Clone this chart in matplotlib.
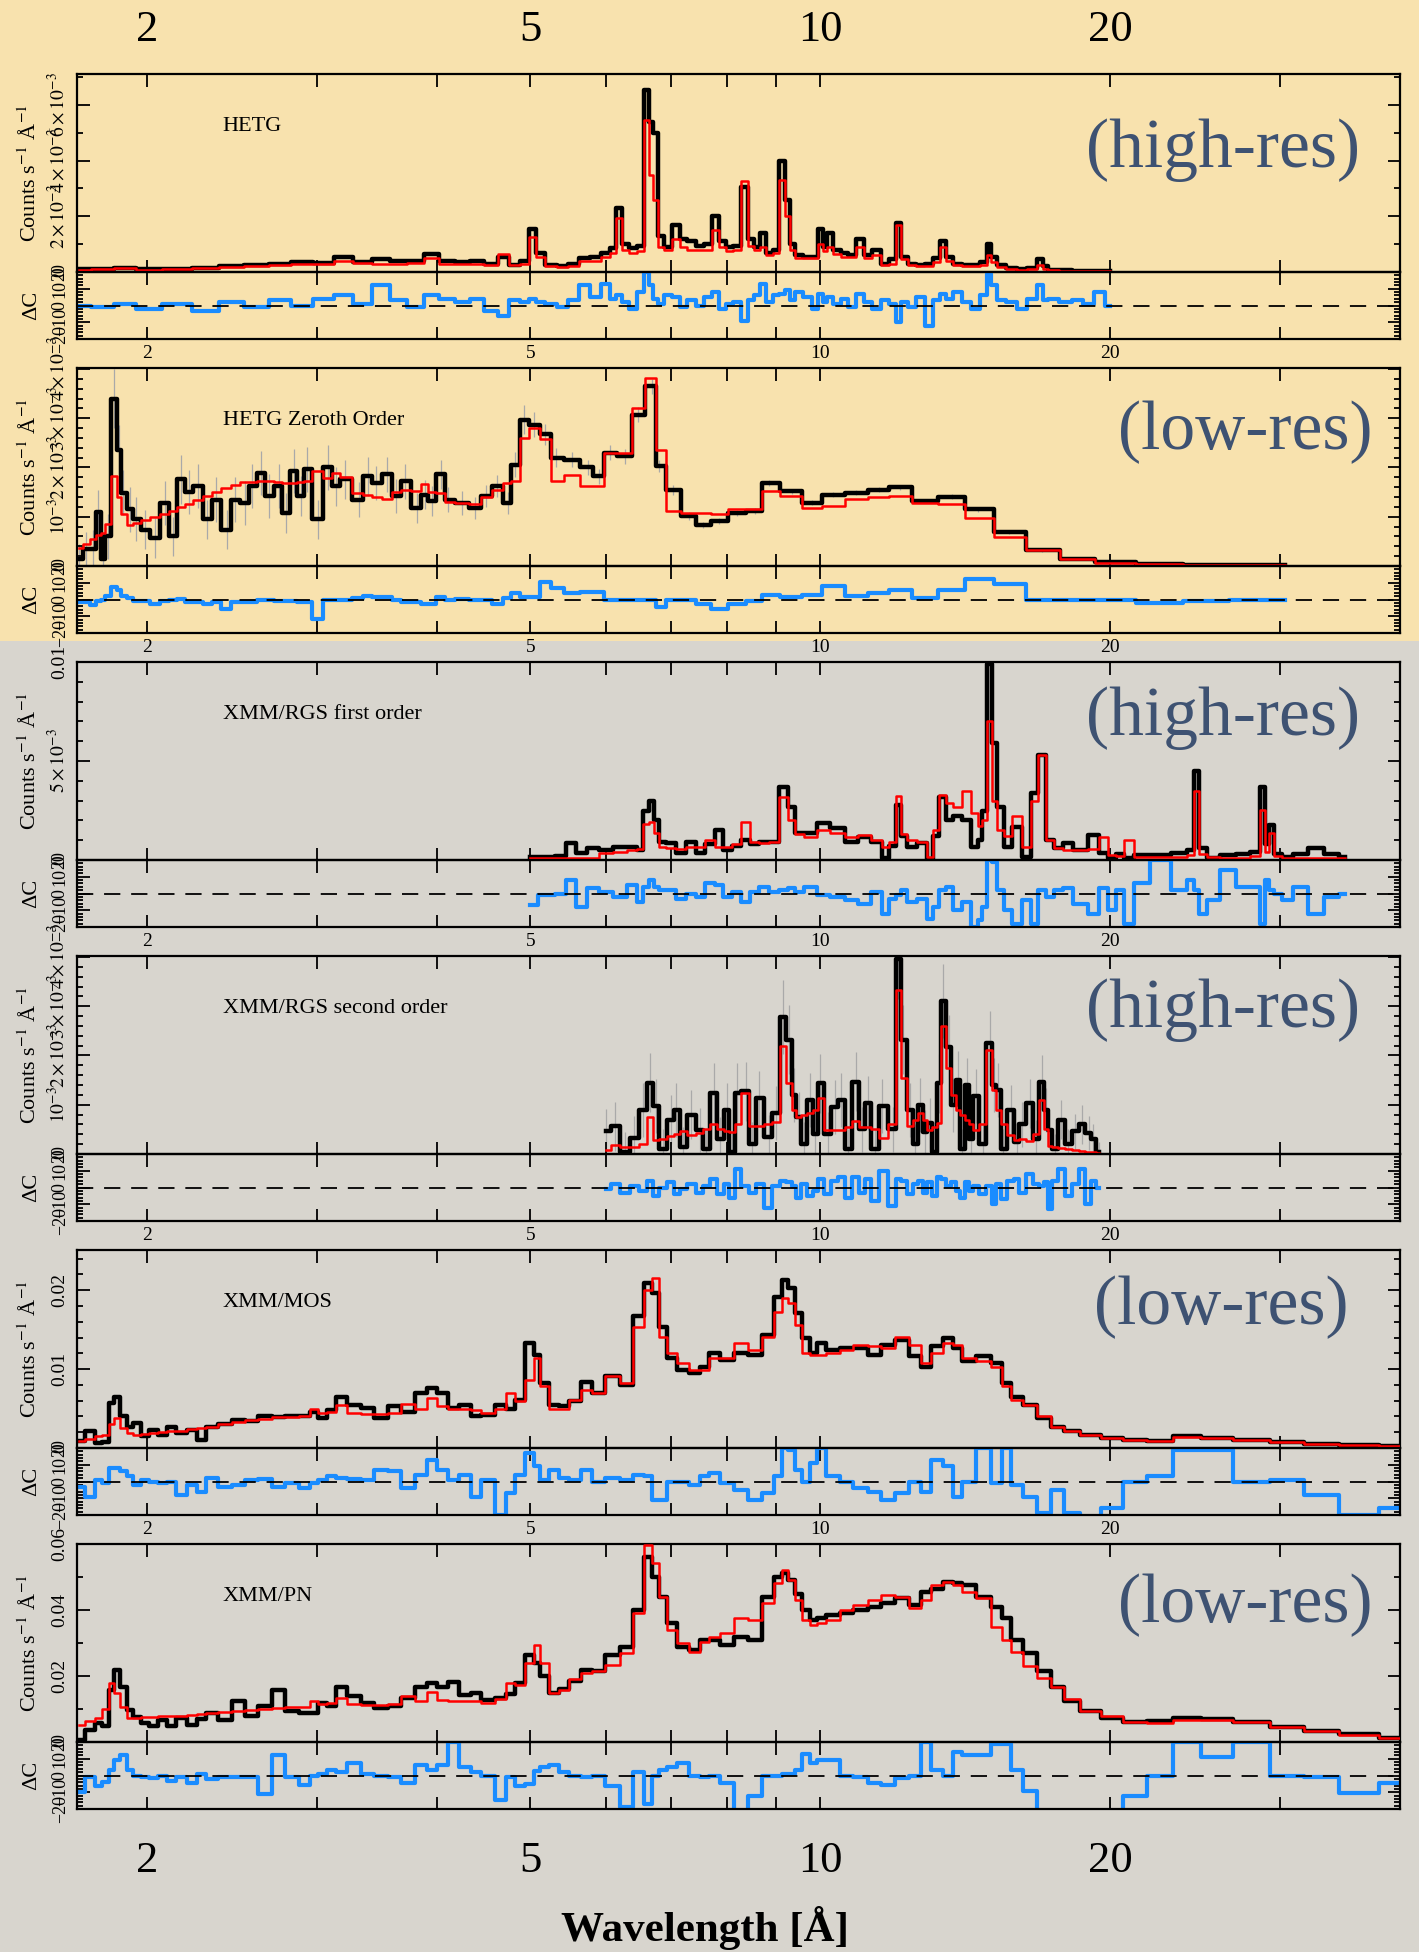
import matplotlib.pyplot as plt
import numpy as np
from matplotlib.patches import Rectangle
from matplotlib.ticker import NullFormatter, MultipleLocator
from matplotlib.transforms import blended_transform_factory

plt.rcParams['font.family'] = ['Liberation Serif', 'DejaVu Serif']
plt.rcParams['mathtext.fontset'] = 'stix'

# wavelength axis (Angstrom, log scale)
x_major = [2, 5, 10, 20]
x_major_labels = ['2', '5', '10', '20']
x_minor = [3, 4, 6, 7, 8, 9, 30]

# ---------------- HETG first order (counts in 1e-3) ----------------
hetg_wl = [1.70, 1.80, 1.90, 2.00, 2.15, 2.30, 2.45, 2.60, 2.75, 2.90,
           3.05, 3.20, 3.35, 3.50, 3.65, 3.80, 3.95, 4.10, 4.25, 4.40,
           4.55, 4.70, 4.80, 4.95, 5.03, 5.12, 5.25, 5.40, 5.55, 5.70,
           5.85, 6.00, 6.10, 6.18, 6.27, 6.40, 6.52, 6.60, 6.67, 6.74,
           6.82, 6.95, 7.10, 7.20, 7.35, 7.50, 7.65, 7.80, 7.92, 8.05,
           8.20, 8.37, 8.48, 8.60, 8.72, 8.85, 9.00, 9.14, 9.24, 9.35,
           9.50, 9.70, 9.90, 10.02, 10.12, 10.22, 10.40, 10.60, 10.80, 11.00,
           11.20, 11.45, 11.70, 11.90, 12.05, 12.20, 12.45, 12.70, 13.00, 13.20,
           13.42, 13.60, 13.90, 14.20, 14.50, 14.80, 14.97, 15.15, 15.40, 15.80,
           16.20, 16.60, 17.00, 17.10, 17.40, 18.0, 18.5, 19.0, 19.5, 20.0]
hetg_data = [0.10, 0.12, 0.15, 0.10, 0.12, 0.15, 0.20, 0.25, 0.30, 0.35,
             0.32, 0.55, 0.35, 0.45, 0.40, 0.38, 0.65, 0.40, 0.35, 0.38,
             0.30, 0.55, 0.25, 0.40, 1.55, 0.70, 0.25, 0.20, 0.30, 0.50,
             0.55, 0.70, 0.85, 2.30, 1.00, 0.85, 0.95, 6.55, 5.40, 5.00,
             1.30, 0.90, 1.70, 1.20, 1.10, 0.95, 1.00, 2.00, 1.10, 0.90,
             0.95, 3.05, 1.20, 0.90, 1.40, 0.70, 0.80, 4.00, 2.60, 1.00,
             0.60, 0.55, 0.55, 1.55, 0.90, 1.40, 0.80, 0.70, 0.60, 1.20,
             0.60, 0.80, 0.30, 0.45, 1.75, 0.55, 0.30, 0.25, 0.30, 0.50,
             1.10, 0.55, 0.30, 0.25, 0.25, 0.35, 1.00, 0.55, 0.25, 0.15,
             0.10, 0.15, 0.45, 0.20, 0.08, 0.06, 0.05, 0.05, 0.05, 0.05]
hetg_model = [0.08, 0.10, 0.16, 0.08, 0.10, 0.14, 0.18, 0.22, 0.26, 0.28,
              0.30, 0.40, 0.32, 0.30, 0.30, 0.32, 0.50, 0.30, 0.30, 0.28,
              0.26, 0.64, 0.25, 0.30, 1.25, 0.55, 0.22, 0.18, 0.22, 0.40,
              0.40, 0.55, 0.70, 1.95, 0.80, 0.70, 0.75, 5.45, 3.50, 2.60,
              0.90, 0.80, 1.20, 0.90, 0.80, 0.80, 0.80, 1.50, 0.90, 0.75,
              0.80, 3.25, 0.95, 0.80, 0.90, 0.60, 0.70, 3.30, 2.00, 0.80,
              0.50, 0.50, 0.50, 1.00, 0.75, 0.90, 0.65, 0.55, 0.55, 0.90,
              0.50, 0.60, 0.25, 0.30, 1.70, 0.45, 0.25, 0.20, 0.22, 0.35,
              0.90, 0.40, 0.25, 0.20, 0.20, 0.25, 0.60, 0.35, 0.18, 0.12,
              0.08, 0.10, 0.25, 0.12, 0.06, 0.05, 0.04, 0.04, 0.04, 0.04]
hetg_resid = [0, -1, 1, -2, 1, -3, 2, -1, 3, 0,
              4, 6, 1, 12, 3, -1, 6, 4, 2, 4,
              -3, -6, 3, 2, 4, 2, 1, -1, 3, 12,
              5, 13, 4, 6, 2, -2, 8, 20, 12, 4,
              1, 6, 5, -1, 3, 0, 5, 8, -2, 1,
              2, -9, 3, 6, 13, 2, 6, 7, 9, 3,
              8, 5, -2, 7, 2, 5, 1, 4, -1, 7,
              2, -2, 3, 1, -10, 2, -1, 5, -12, 3,
              7, 4, 8, 2, -2, 6, 19, 12, 3, 2,
              -2, 4, 12, 3, 4, 2, 3, 1, 8, 0]

# ---------------- HETG zeroth order ----------------
zero_wl = [1.70, 1.73, 1.76, 1.78, 1.80, 1.82, 1.85, 1.87, 1.89, 1.92,
           1.95, 1.99, 2.04, 2.09, 2.13, 2.17, 2.21, 2.26, 2.31, 2.36,
           2.42, 2.47, 2.53, 2.57, 2.63, 2.68, 2.74, 2.79, 2.84, 2.89,
           2.93, 3.01, 3.08, 3.14, 3.21, 3.32, 3.39, 3.46, 3.55, 3.63,
           3.71, 3.81, 3.89, 3.95, 4.04, 4.11, 4.25, 4.38, 4.50, 4.62,
           4.74, 4.82, 4.93, 5.05, 5.18, 5.32, 5.53, 5.74, 5.89, 6.05,
           6.27, 6.47, 6.69, 6.81, 7.03, 7.30, 7.55, 7.85, 8.20, 8.55,
           8.84, 9.34, 9.80, 10.3, 10.9, 11.5, 12.1, 12.8, 13.7, 14.6,
           15.7, 17.0, 18.5, 20.1, 22.5, 25.1, 28.0, 30.4]
zero_data = [0.14, 0.34, 0.34, 1.10, 0.14, 0.60, 3.40, 2.36, 1.49, 1.15,
             0.95, 0.74, 0.57, 1.28, 0.60, 1.76, 1.50, 1.62, 0.95, 1.35,
             0.74, 1.35, 1.28, 1.62, 1.89, 1.42, 1.62, 1.08, 1.93, 1.42,
             1.96, 0.95, 2.00, 1.62, 1.76, 1.35, 1.82, 1.69, 1.86, 1.42,
             1.72, 1.18, 1.45, 1.32, 1.86, 1.35, 1.28, 1.18, 1.42, 1.62,
             1.28, 2.06, 2.97, 2.87, 2.67, 2.20, 2.16, 2.00, 1.82, 2.30,
             2.23, 3.07, 3.65, 2.03, 1.55, 1.01, 0.84, 0.91, 1.08, 1.11,
             1.68, 1.52, 1.28, 1.45, 1.49, 1.55, 1.60, 1.32, 1.41, 1.15,
             0.69, 0.32, 0.15, 0.08, 0.05, 0.03, 0.02, 0.02]
zero_model = [0.37, 0.45, 0.55, 0.62, 0.68, 0.85, 1.82, 1.40, 1.05, 0.84,
              0.88, 0.93, 1.00, 1.06, 1.12, 1.20, 1.26, 1.33, 1.42, 1.50,
              1.58, 1.64, 1.70, 1.71, 1.73, 1.72, 1.70, 1.69, 1.69, 1.70,
              1.72, 1.93, 1.79, 1.88, 1.80, 1.49, 1.44, 1.40, 1.36, 1.50,
              1.55, 1.52, 1.66, 1.50, 1.49, 1.30, 1.28, 1.25, 1.40, 1.55,
              1.69, 1.72, 2.60, 2.80, 2.57, 1.72, 1.84, 1.62, 1.62, 2.30,
              2.30, 3.20, 3.82, 2.36, 1.11, 1.08, 1.08, 1.05, 1.15, 1.15,
              1.52, 1.42, 1.18, 1.22, 1.36, 1.40, 1.43, 1.27, 1.26, 0.98,
              0.59, 0.32, 0.14, 0.07, 0.04, 0.03, 0.02, 0.02]
zero_err = [0.30, 0.35, 0.40, 0.45, 0.40, 0.45, 0.60, 0.50, 0.45, 0.45,
            0.45, 0.40, 0.40, 0.45, 0.40, 0.50, 0.45, 0.45, 0.40, 0.45,
            0.40, 0.45, 0.45, 0.45, 0.45, 0.45, 0.45, 0.40, 0.45, 0.40,
            0.45, 0.40, 0.45, 0.40, 0.40, 0.35, 0.40, 0.35, 0.35, 0.35,
            0.35, 0.30, 0.30, 0.30, 0.30, 0.25, 0.25, 0.22, 0.22, 0.22,
            0.22, 0.25, 0.30, 0.25, 0.22, 0.20, 0.15, 0.15, 0.15, 0.15,
            0.15, 0.15, 0.15, 0.12, 0.10, 0.08, 0.06, 0.06, 0.06, 0.06,
            0.06, 0.05, 0.05, 0.05, 0.05, 0.05, 0.05, 0.05, 0.05, 0.05,
            0.04, 0.03, 0.02, 0.02, 0.01, 0.01, 0.01, 0.01]
zero_resid = [-1.4, -1.4, -3.4, -1, 0, 2, 7.6, 5.6, 2, 0.6,
              -1, -1, -2.4, -1, 0, 0.5, -1.4, -1.4, -2.4, -1.4,
              -5.4, -1.4, -1.4, -1.4, -0.5, -0.5, -0.8, -1, -1, -1.4,
              -1.4, -11.4, -0.5, 0, 0, 1, 2, 1.2, 1.2, 0,
              -1.4, -1.4, -2.4, -2.4, 1.6, 0, 0.2, 0, 0, -2.4,
              0.6, 3.6, 1.6, 1.6, 10.6, 6.6, 3.6, 4.6, 4.6, 0,
              -0.5, -0.5, -0.5, -4.4, 0, -0.5, -2.4, -5.4, -2.4, -1,
              2.6, 1.6, 2.6, 8, 2, 4, 5.6, 0.6, 5.6, 12,
              9, 0, 0, 0, -2, -1, -0.5, 0]

# ---------------- XMM/RGS first order ----------------
rgs1_wl = [5.0, 5.2, 5.4, 5.5, 5.65, 5.8, 6.0, 6.2, 6.4, 6.5,
           6.6, 6.68, 6.75, 6.84, 7.0, 7.18, 7.35, 7.5, 7.7, 7.84,
           8.0, 8.2, 8.37, 8.55, 8.75, 8.95, 9.17, 9.34, 9.5, 9.76,
           10.1, 10.4, 10.8, 11.1, 11.5, 11.7, 11.9, 12.05, 12.2, 12.4,
           12.8, 13.0, 13.2, 13.4, 13.6, 13.9, 14.2, 14.5, 14.65, 14.8,
           14.98, 15.15, 15.4, 15.65, 16.0, 16.4, 16.7, 17.0, 17.3, 17.7,
           18.05, 18.6, 19.3, 19.7, 20.1, 20.5, 20.9, 21.5, 22.5, 23.8,
           24.3, 24.6, 24.9, 25.5, 26.5, 27.5, 28.4, 28.8, 29.1, 29.4,
           29.8, 30.5, 31.5, 32.7, 34.0, 35.1]
rgs1_data = [0.14, 0.14, 0.20, 0.84, 0.34, 0.60, 0.50, 0.68, 0.68, 0.50,
             2.50, 2.96, 2.00, 0.93, 0.85, 0.34, 0.90, 0.34, 0.80, 1.52,
             0.50, 0.70, 1.00, 0.80, 0.93, 0.90, 3.70, 2.70, 1.35, 1.35,
             1.86, 1.60, 0.93, 1.18, 0.93, 0.08, 0.70, 2.80, 1.20, 0.68,
             0.85, 0.00, 1.20, 3.20, 2.00, 2.20, 2.00, 0.68, 1.00, 2.50,
             9.90, 5.90, 2.70, 0.68, 1.69, 0.17, 3.38, 5.30, 1.00, 0.60,
             0.84, 0.50, 1.27, 0.34, 0.08, 0.30, 0.08, 0.25, 0.25, 0.34,
             0.50, 4.48, 0.60, 0.10, 0.25, 0.30, 0.40, 3.70, 0.80, 1.77,
             0.30, 0.15, 0.30, 0.60, 0.30, 0.14]
rgs1_model = [0.08, 0.08, 0.08, 0.08, 0.08, 0.10, 0.34, 0.42, 0.50, 0.55,
              1.80, 1.94, 1.35, 0.68, 0.60, 0.55, 0.65, 0.68, 1.00, 0.68,
              0.68, 0.80, 1.94, 0.90, 0.85, 0.90, 3.20, 2.00, 1.30, 1.18,
              1.52, 1.35, 1.18, 1.25, 1.00, 0.68, 0.90, 3.24, 1.30, 1.00,
              0.93, 0.17, 1.50, 3.30, 2.87, 2.70, 3.46, 2.36, 1.70, 2.00,
              7.00, 3.00, 1.52, 1.20, 2.20, 0.68, 2.96, 5.30, 1.00, 0.60,
              0.50, 0.50, 0.55, 1.18, 0.25, 0.20, 1.00, 0.15, 0.15, 0.14,
              0.25, 3.46, 0.30, 0.14, 0.12, 0.12, 0.20, 2.53, 0.40, 1.35,
              0.20, 0.12, 0.12, 0.12, 0.10, 0.08]
rgs1_resid = [-7, -1, 0, 8, -8, 3, 1, -2, 5, -5,
              4, 8, 4, 2, 2, -3, 0, -2, 6, 5,
              -2, 1, -5, 1, 4, 1, 2, 3, 1, 4,
              -1, -2, -4, -6, 1, -12, -3, -1, 2, -5,
              -3, -15, -8, 2, 4, -10, -5, -20, -16, -8,
              20, 19, 2, -10, -18, -4, -18, 2, -2, 2,
              3, -6, -12, 3, -10, 2, -18, 6, 20, 2,
              8, 2, -12, -4, 14, 4, 4, -18, 8, 2,
              0, -4, 4, -12, -2, 0]

# ---------------- XMM/RGS second order ----------------
rgs2_wl = [6.0, 6.13, 6.27, 6.41, 6.55, 6.66, 6.75, 6.86, 7.0, 7.09,
           7.2, 7.35, 7.5, 7.62, 7.75, 7.88, 8.0, 8.1, 8.2, 8.37,
           8.5, 8.65, 8.84, 9.0, 9.16, 9.29, 9.4, 9.5, 9.62, 9.76,
           9.88, 10.0, 10.2, 10.35, 10.5, 10.7, 10.9, 11.05, 11.2, 11.4,
           11.6, 11.9, 12.05, 12.2, 12.4, 12.55, 12.7, 12.85, 13.0, 13.15,
           13.3, 13.4, 13.6, 13.75, 13.9, 14.05, 14.2, 14.35, 14.5, 14.75,
           15.0, 15.15, 15.3, 15.5, 15.8, 16.0, 16.2, 16.5, 16.75, 17.0,
           17.15, 17.3, 17.55, 17.8, 18.1, 18.4, 18.7, 19.0, 19.2, 19.5]
rgs2_data = [0.46, 0.56, 0.05, 0.32, 0.90, 1.45, 0.97, 0.10, 0.70, 0.90,
             0.15, 0.80, 0.49, 0.10, 1.24, 0.30, 0.90, 0.05, 1.24, 1.27,
             0.20, 1.13, 0.35, 0.83, 2.79, 2.32, 1.20, 0.76, 0.20, 1.10,
             0.40, 1.44, 0.40, 0.95, 1.10, 0.10, 1.47, 0.50, 1.03, 0.10,
             0.97, 0.50, 3.95, 2.32, 0.90, 0.20, 1.00, 0.45, 0.63, 0.05,
             1.44, 3.10, 2.18, 1.00, 1.50, 0.10, 1.40, 0.30, 1.17, 0.20,
             2.25, 1.40, 1.30, 0.10, 0.90, 0.25, 0.60, 1.03, 0.30, 1.47,
             0.90, 0.49, 0.10, 0.70, 0.20, 0.46, 0.60, 0.43, 0.30, 0.05]
rgs2_model = [0.09, 0.19, 0.15, 0.15, 0.20, 0.76, 0.29, 0.30, 0.36, 0.40,
              0.46, 0.39, 0.43, 0.50, 0.60, 0.50, 0.46, 0.45, 0.60, 1.24,
              0.56, 0.56, 0.60, 0.65, 2.20, 1.44, 0.90, 0.76, 0.80, 0.83,
              0.90, 1.13, 0.49, 0.49, 0.49, 0.55, 0.66, 0.55, 0.55, 0.50,
              0.32, 0.60, 3.33, 1.54, 0.56, 0.70, 0.83, 0.70, 0.49, 0.55,
              0.63, 2.59, 1.74, 1.20, 0.90, 0.80, 0.70, 0.60, 0.49, 0.60,
              2.11, 1.30, 0.90, 0.60, 0.39, 0.29, 0.30, 0.26, 0.40, 1.10,
              0.50, 0.16, 0.14, 0.12, 0.10, 0.08, 0.06, 0.05, 0.04, 0.03]
rgs2_err = [0.45, 0.50, 0.40, 0.45, 0.55, 0.60, 0.55, 0.40, 0.50, 0.55,
            0.40, 0.50, 0.45, 0.40, 0.60, 0.45, 0.55, 0.40, 0.60, 0.60,
            0.45, 0.55, 0.45, 0.55, 0.75, 0.70, 0.55, 0.50, 0.45, 0.55,
            0.45, 0.60, 0.45, 0.55, 0.55, 0.40, 0.60, 0.45, 0.55, 0.40,
            0.55, 0.45, 0.80, 0.70, 0.55, 0.40, 0.55, 0.45, 0.50, 0.40,
            0.60, 0.75, 0.65, 0.55, 0.60, 0.40, 0.55, 0.45, 0.55, 0.40,
            0.65, 0.55, 0.55, 0.40, 0.50, 0.40, 0.45, 0.50, 0.40, 0.55,
            0.45, 0.35, 0.30, 0.40, 0.30, 0.35, 0.40, 0.35, 0.30, 0.20]
rgs2_resid = [-1, 2, -3, 1, -2, 4, -5, 0, 3, -4,
              -1, 2, -3, 1, 5, -4, 2, -6, 11, 1,
              -3, 2, -12, 1, 4, 3, 1, -6, 2, -5,
              -2, 5, -4, 4, 6, -6, 6, -3, 5, -8,
              10, -11, 5, 4, -4, 2, 4, -3, 3, -5,
              6, 5, 1, 3, -2, -6, 3, -2, 1, -4,
              1, -10, 2, -7, 4, 5, -3, 8, 2, 1,
              3, -13, 4, 11, -5, 2, 11, -10, 4, 0]

# ---------------- XMM EPIC (MOS and PN share the binning) ----------------
epic_wl = [1.70, 1.75, 1.78, 1.81, 1.84, 1.86, 1.89, 1.92, 1.95, 1.99,
           2.03, 2.08, 2.12, 2.17, 2.23, 2.28, 2.33, 2.41, 2.49, 2.57,
           2.65, 2.74, 2.83, 2.92, 2.98, 3.04, 3.11, 3.18, 3.28, 3.39,
           3.50, 3.61, 3.73, 3.87, 3.95, 4.06, 4.15, 4.29, 4.38, 4.52,
           4.67, 4.77, 4.87, 5.00, 5.08, 5.16, 5.30, 5.41, 5.56, 5.72,
           5.87, 6.10, 6.30, 6.50, 6.63, 6.75, 6.86, 7.00, 7.20, 7.40,
           7.60, 7.75, 8.00, 8.28, 8.55, 8.84, 9.05, 9.20, 9.34, 9.50,
           9.65, 9.87, 10.0, 10.3, 10.65, 11.0, 11.4, 11.75, 12.15, 12.6,
           12.85, 13.2, 13.6, 13.9, 14.2, 14.8, 15.3, 15.6, 16.0, 16.5,
           17.1, 17.6, 18.2, 19.0, 20.1, 21.2, 22.5, 24.0, 25.7, 28.0,
           30.6, 33.0, 36.1, 40.0]
mos_data = [0.84, 2.1, 0.63, 0.8, 5.7, 6.5, 4.0, 2.7, 3.2, 1.5,
            2.3, 1.7, 2.7, 1.9, 2.3, 1.05, 2.7, 3.0, 3.6, 3.4,
            4.0, 3.9, 4.0, 4.1, 4.6, 3.8, 4.8, 6.5, 5.5, 5.1,
            3.8, 5.3, 4.6, 7.0, 7.6, 7.0, 5.1, 5.5, 4.0, 4.2,
            5.5, 4.9, 6.1, 13.3, 11.8, 8.2, 5.5, 5.3, 5.9, 8.4,
            7.0, 9.1, 8.0, 16.7, 20.9, 19.6, 15.4, 11.4, 9.9, 9.5,
            10.3, 12.0, 11.2, 12.0, 11.8, 14.3, 19.2, 21.3, 20.3, 17.1,
            13.9, 12.0, 13.3, 12.4, 12.7, 12.7, 11.8, 13.1, 13.7, 11.6,
            10.3, 12.9, 13.9, 12.7, 11.0, 11.6, 10.8, 8.2, 6.5, 5.5,
            3.8, 2.7, 2.1, 1.7, 1.3, 1.0, 0.93, 1.5, 1.3, 1.05,
            0.76, 0.55, 0.42, 0.3]
mos_model = [0.84, 1.2, 1.5, 1.7, 3.0, 3.8, 2.5, 1.9, 1.7, 1.8,
             1.9, 2.0, 2.1, 2.2, 2.4, 2.5, 2.7, 3.0, 3.3, 3.6,
             3.7, 3.9, 3.9, 4.0, 4.9, 4.4, 4.6, 5.4, 4.4, 4.3,
             4.3, 4.4, 5.6, 4.9, 6.3, 5.3, 4.9, 4.9, 4.8, 4.4,
             4.9, 7.0, 5.9, 8.6, 11.4, 7.8, 4.9, 4.9, 6.1, 7.4,
             7.0, 9.1, 8.2, 15.4, 20.0, 21.5, 14.1, 12.0, 10.8, 9.9,
             9.9, 11.4, 11.4, 13.3, 12.4, 14.1, 17.3, 19.0, 18.4, 15.6,
             12.0, 11.8, 11.8, 12.0, 12.4, 13.1, 12.9, 12.7, 14.1, 13.1,
             10.8, 12.0, 13.3, 13.1, 11.4, 11.0, 10.3, 7.8, 6.1, 5.5,
             4.0, 2.7, 2.1, 1.7, 1.3, 1.0, 0.93, 1.4, 1.3, 1.05,
             0.76, 0.55, 0.42, 0.3]
mos_resid = [-3, -9, 1, -1, 8, 8, 6, 3, -2, 1,
             0, -1, 0, -8, -2, -6, 2, -3, -2, 1,
             1.5, -3, -1, -4, -1, 1, 3, 2, 1.5, 1,
             7, 6, -4, 4, 13, 7, 1, 4, -9, 1,
             -20, -7, 4, 17, 9, 1, 7, 2, 1, 7,
             0, 2, 1, 4, 3, -11, -11, 0, 0, -2,
             3, 5, -1, -5, -11, -7, 3, 20, 19, 7,
             0, 11, 20, 3, 0, -4, -6, -11, -7, 0,
             -6, 13, 9, -9, 0, 20, -1, 20, -2, -9,
             -19, -5, -19, -25, -16, 0, 3, 19, 19, 0,
             1, -8, -20, -16]
pn_data = [0.7, 3.7, 5.7, 4.7, 15.8, 21.9, 16.8, 9.8, 7.5, 5.7,
           4.7, 6.8, 4.7, 7.3, 5.2, 7.0, 8.8, 6.8, 12.3, 7.8,
           10.8, 15.8, 9.3, 8.8, 8.8, 11.8, 11.0, 16.8, 13.8, 11.8,
           10.3, 10.8, 13.3, 16.8, 17.8, 16.8, 18.3, 14.3, 14.8, 12.8,
           13.3, 14.5, 18.0, 26.4, 23.9, 20.0, 14.8, 16.0, 18.5, 21.9,
           21.5, 26.4, 28.9, 40.0, 56.0, 50.0, 44.0, 36.0, 28.9, 27.9,
           30.9, 30.9, 29.4, 31.9, 30.9, 44.0, 50.1, 51.1, 49.1, 45.0,
           40.0, 37.0, 37.5, 38.5, 39.0, 40.0, 41.0, 42.0, 43.5, 41.5,
           45.5, 46.5, 48.6, 48.1, 47.5, 44.0, 41.0, 37.5, 30.9, 26.9,
           21.5, 16.8, 12.3, 9.5, 7.3, 6.2, 6.5, 7.3, 7.0, 6.0,
           4.6, 3.4, 2.3, 1.2]
pn_model = [5.2, 6.5, 7.3, 10.0, 17.8, 15.0, 10.5, 7.3, 7.4, 7.6,
            7.7, 7.8, 7.9, 8.0, 8.3, 8.5, 8.7, 9.1, 9.3, 9.6,
            10.1, 10.3, 10.5, 10.7, 12.3, 11.5, 11.8, 13.3, 11.5, 11.3,
            11.3, 11.5, 13.8, 12.3, 15.3, 12.8, 12.5, 12.3, 12.3, 11.8,
            13.0, 17.8, 17.3, 23.9, 29.4, 23.9, 14.8, 15.8, 19.0, 20.9,
            21.5, 23.4, 26.9, 39.0, 59.6, 54.1, 44.0, 34.0, 29.9, 27.4,
            30.4, 31.9, 33.0, 37.5, 37.0, 42.0, 48.1, 52.1, 49.1, 43.0,
            37.0, 35.5, 36.0, 37.0, 40.0, 41.5, 43.0, 44.5, 44.0, 40.5,
            43.0, 47.6, 48.6, 47.6, 45.5, 43.5, 35.0, 30.9, 27.4, 22.9,
            19.5, 16.8, 13.0, 9.5, 7.8, 6.2, 5.7, 6.8, 6.8, 6.0,
            4.5, 3.2, 2.1, 1.2]
pn_resid = [-10, -1, -6, -4, 3, 9, 12, 3, 0, -1,
            -1.6, 0, -3.5, -1, -4.5, 1, -2, -1, -1, -1,
            -11, 12, -1, -5.5, 0, 1, 3.4, 2, 7.3, 1,
            0, -1, -4.5, 6.3, 3, 6, 20, 5.3, 2, 0,
            -14.4, -1, -6.5, -5, 2.4, 5.3, 6.3, 2, 0, -1,
            0, -6.5, -19, 2, -17, 0, 3.4, 5, 7.3, 0,
            -1, 0, -4.5, -22, -12, 0, 0, 1, 1, 3.4,
            13, 7.3, 9.3, 9, 0, -1, -4.5, -5.5, -1.5, 0,
            20, 3.4, 0, 14, 12, 12, 19, 19, 3.4, -9.5,
            -22, -25, -25, -25, -25, -12.4, 0, 20, 11, 20,
            0, -1, -10.5, -4.5]

res_ticks = [-20, -10, 0, 10, 20]
res_labels = ['\u221220', '\u221210', '0', '10', '20']

# ---------------- layout (pixels) ----------------
W, H = 1419, 1952
LEFT, RIGHT = 77, 1400
MAIN_H, RES_H = 198, 67
XLIM = (1.692, 40.0)
TAG_COLOR = '#3e5272'

fig = plt.figure(figsize=(W / 100, H / 100), dpi=100)
fig.patch.set_facecolor('#d8d5ce')
fig.add_artist(Rectangle((0, 1 - 641 / H), 1, 641 / H, transform=fig.transFigure,
                         facecolor='#f8e2ae', edgecolor='none', zorder=-5))


def style_axes(a):
    a.set_facecolor('none')
    a.set_xscale('log')
    a.set_xlim(*XLIM)
    a.set_xticks(x_major, x_major_labels)
    a.set_xticks(x_minor, minor=True)
    a.xaxis.set_minor_formatter(NullFormatter())
    a.tick_params(which='both', direction='in', top=True, right=True, width=1.3)
    a.tick_params(axis='x', which='both', length=9)
    a.tick_params(axis='y', which='major', length=9)
    a.tick_params(axis='y', which='minor', length=4.5)
    for s in a.spines.values():
        s.set_linewidth(1.6)


def panel(top, wl, data, model, resid, ylim, yticks, yticklabels, yminor,
          name, tag, tag_xy, err=None, xlabels=True):
    ax = fig.add_axes([LEFT / W, 1 - (top + MAIN_H) / H, (RIGHT - LEFT) / W, MAIN_H / H])
    rx = fig.add_axes([LEFT / W, 1 - (top + MAIN_H + RES_H) / H, (RIGHT - LEFT) / W, RES_H / H])
    wl = np.array(wl)
    d = np.array(data) * 1e-3
    m = np.array(model) * 1e-3
    if err is not None:
        e = np.array(err) * 1e-3
        ax.vlines(wl, d - e, d + e, color='#a9a9a9', lw=0.9, zorder=1)
    ax.step(wl, d, where='mid', color='black', lw=3.2, zorder=2)
    ax.step(wl, m, where='mid', color='red', lw=1.8, zorder=3)
    rx.step(wl, resid, where='mid', color='#1a8cff', lw=3.0, zorder=2)
    rx.axhline(0, color='black', lw=1.3, ls=(0, (9, 6)), zorder=3)

    style_axes(ax)
    style_axes(rx)
    ax.tick_params(axis='x', labelbottom=False)
    rx.tick_params(axis='x', labelbottom=xlabels, labelsize=14, pad=4)

    ax.set_ylim(*ylim)
    ax.set_yticks(yticks, yticklabels, rotation=90, va='center', fontsize=14)
    ax.yaxis.set_minor_locator(MultipleLocator(yminor))
    ax.tick_params(axis='y', pad=6)
    rx.set_ylim(-20, 20)
    rx.set_yticks(res_ticks, res_labels, rotation=90, va='center', fontsize=13)
    rx.yaxis.set_minor_locator(MultipleLocator(2))
    rx.tick_params(axis='y', pad=6)

    ax.text(-0.0355, 0.5, r'Counts s$^{-1}$ Å$^{-1}$', transform=ax.transAxes,
            rotation=90, ha='center', va='center', fontsize=16)
    rx.text(-0.034, 0.5, 'ΔC', transform=rx.transAxes, rotation=90,
            ha='center', va='center', fontsize=16)
    ax.text(0.11, 0.737, name, transform=ax.transAxes, ha='left', va='center', fontsize=16)
    ax.text(tag_xy[0], tag_xy[1], tag, transform=ax.transAxes, ha='right', va='center',
            fontsize=50, color=TAG_COLOR)
    return ax, rx


lab_1e3 = ['0', r'$10^{-3}$', r'$2\times10^{-3}$', r'$3\times10^{-3}$', r'$4\times10^{-3}$']

a1, _ = panel(74, hetg_wl, hetg_data, hetg_model, hetg_resid, (0, 7.11e-3),
              [0, 2e-3, 4e-3, 6e-3],
              ['0', r'$2\times10^{-3}$', r'$4\times10^{-3}$', r'$6\times10^{-3}$'], 1e-3,
              'HETG', '(high-res)', (0.970, 0.616))
panel(368, zero_wl, zero_data, zero_model, zero_resid, (0, 4.02e-3),
      [0, 1e-3, 2e-3, 3e-3, 4e-3], lab_1e3, 2e-4,
      'HETG Zeroth Order', '(low-res)', (0.979, 0.677), err=zero_err)
panel(662, rgs1_wl, rgs1_data, rgs1_model, rgs1_resid, (0, 0.01),
      [0, 5e-3, 0.01], ['0', r'$5\times10^{-3}$', '0.01'], 1e-3,
      'XMM/RGS first order', '(high-res)', (0.970, 0.717))
panel(956, rgs2_wl, rgs2_data, rgs2_model, rgs2_resid, (0, 4.02e-3),
      [0, 1e-3, 2e-3, 3e-3, 4e-3], lab_1e3, 2e-4,
      'XMM/RGS second order', '(high-res)', (0.970, 0.727), err=rgs2_err)
panel(1250, epic_wl, mos_data, mos_model, mos_resid, (0, 0.0251),
      [0, 0.01, 0.02], ['0', '0.01', '0.02'], 0.002,
      'XMM/MOS', '(low-res)', (0.961, 0.712))
a6, _ = panel(1544, epic_wl, pn_data, pn_model, pn_resid, (0, 0.06),
              [0, 0.02, 0.04, 0.06], ['0', '0.02', '0.04', '0.06'], 0.01,
              'XMM/PN', '(low-res)', (0.979, 0.692), xlabels=False)

# large wavelength labels above and below the stack
trans = blended_transform_factory(a1.transData, fig.transFigure)
for v, lab in zip(x_major, x_major_labels):
    a1.text(v, 1 - 30 / H, lab, transform=trans, ha='center', va='center', fontsize=32)
    a1.text(v, 1 - 1861 / H, lab, transform=trans, ha='center', va='center', fontsize=32)

fig.text(705 / W, 1 - 1928 / H, 'Wavelength [Å]', ha='center', va='center',
         fontsize=31, fontweight='bold')

fig.savefig('out.png', dpi=100, facecolor=fig.get_facecolor())
